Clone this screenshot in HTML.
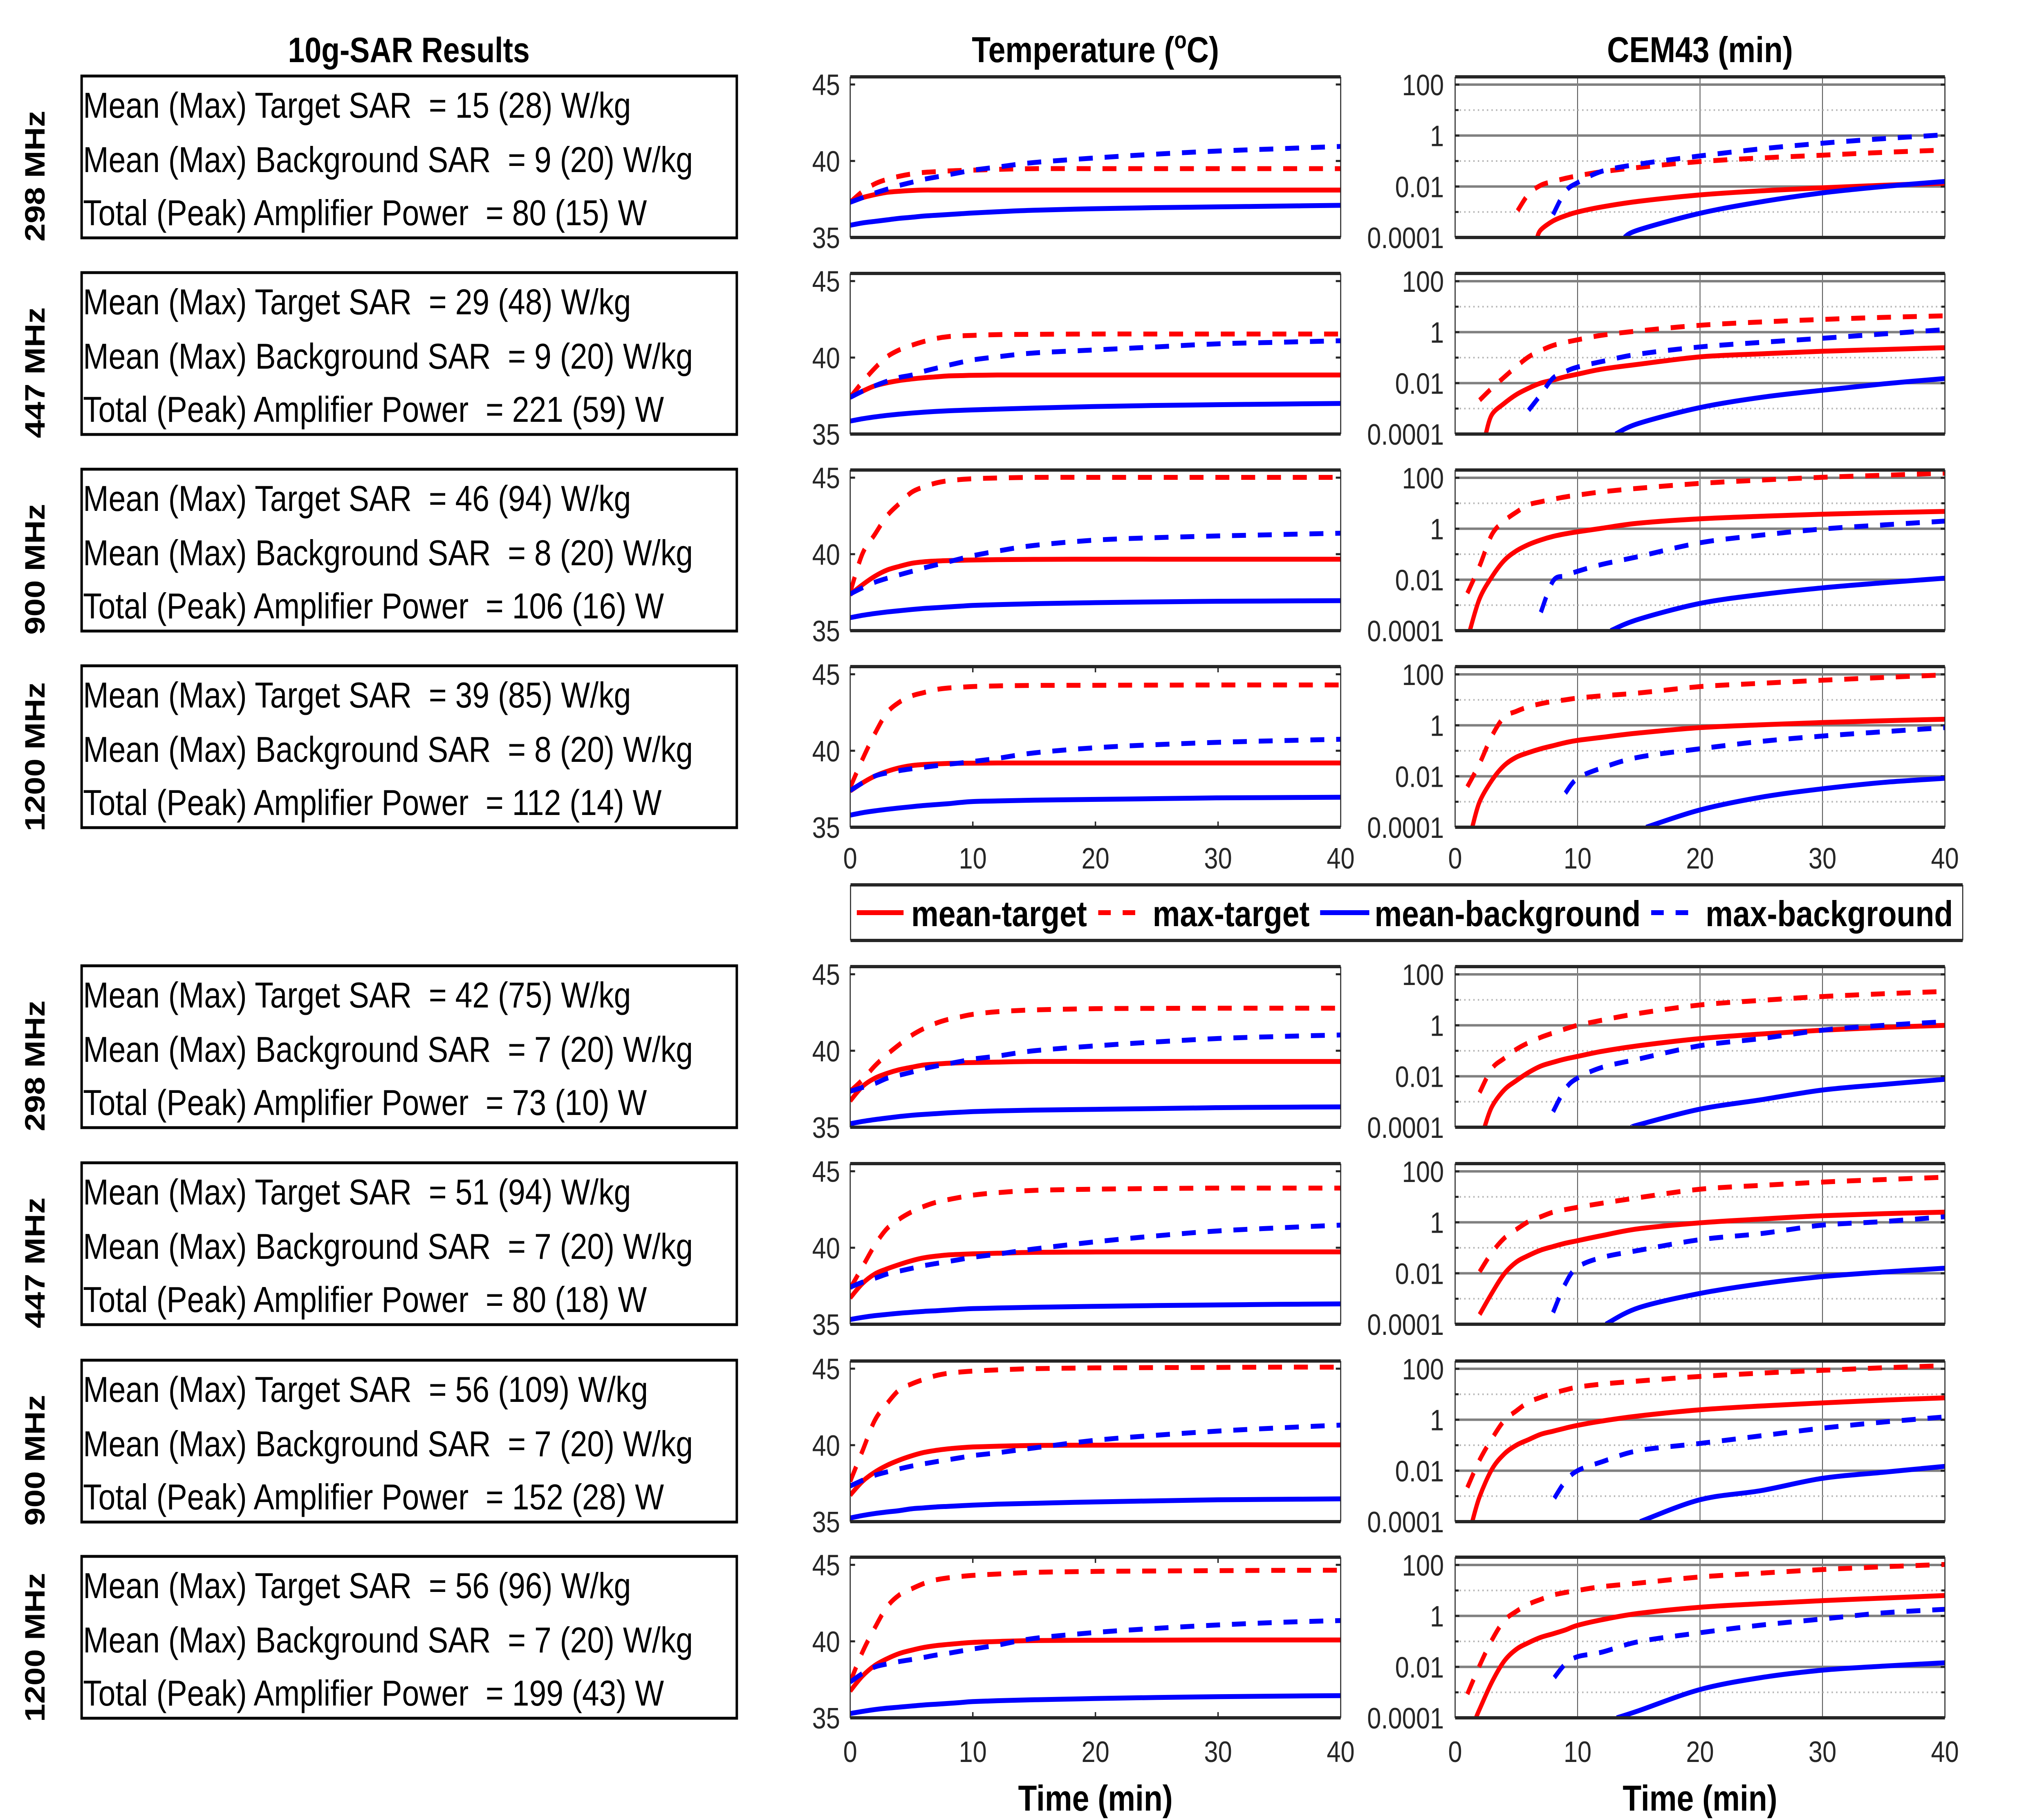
<!DOCTYPE html>
<html>
<head>
<meta charset="utf-8">
<style>
html,body{margin:0;padding:0;background:#fff;width:100%;height:100%;overflow:hidden;}
svg{display:block;width:100vw;height:100vh;}
text{font-family:"Liberation Sans",Arial,sans-serif;}
</style>
</head>
<body>
<svg id="fig" xmlns="http://www.w3.org/2000/svg" viewBox="0 0 5859 4453" preserveAspectRatio="none">
<rect x="0" y="0" width="5859" height="4453" fill="#fff"/>
</svg>
<script>
const TIME = [0,1,2,3,4,5,6,7,8,9,10,12,15,20,25,30,35,40];

const tempMeanTarget = [
[37.3,37.6,37.8,37.95,38.02,38.07,38.1,38.1,38.1,38.1,38.1,38.1,38.1,38.1,38.1,38.1,38.1,38.1],
[37.4,37.8,38.15,38.35,38.5,38.6,38.68,38.74,38.8,38.82,38.84,38.86,38.86,38.86,38.86,38.86,38.86,38.86],
[37.36,38.0,38.55,38.96,39.2,39.4,39.5,39.55,39.58,39.6,39.62,39.64,39.66,39.67,39.67,39.67,39.67,39.67],
[37.37,37.9,38.34,38.65,38.88,39.03,39.1,39.14,39.17,39.18,39.19,39.2,39.2,39.2,39.2,39.2,39.2,39.2],
[36.72,37.66,38.2,38.52,38.76,38.92,39.07,39.13,39.18,39.21,39.23,39.26,39.3,39.3,39.3,39.3,39.3,39.3],
[36.72,37.66,38.28,38.62,38.9,39.15,39.34,39.45,39.53,39.57,39.6,39.64,39.7,39.72,39.73,39.73,39.73,39.73],
[36.73,37.63,38.23,38.68,39.02,39.3,39.52,39.66,39.76,39.83,39.88,39.93,39.98,40.0,40.01,40.02,40.02,40.02],
[36.75,37.73,38.42,38.86,39.2,39.42,39.6,39.72,39.8,39.87,39.93,39.99,40.05,40.07,40.08,40.09,40.09,40.09]
];
const tempMaxTarget = [
[37.3,38.0,38.5,38.8,39.0,39.15,39.25,39.3,39.35,39.38,39.4,39.45,39.5,39.5,39.5,39.5,39.5,39.5],
[37.4,38.4,39.3,40.05,40.5,40.8,41.05,41.25,41.37,41.42,41.45,41.5,41.52,41.54,41.54,41.54,41.54,41.54],
[37.5,40.03,41.28,42.5,43.3,44.04,44.4,44.65,44.8,44.88,44.93,44.98,45.02,45.02,45.02,45.02,45.02,45.02],
[37.6,39.44,41.1,42.48,43.17,43.58,43.8,44.0,44.1,44.15,44.2,44.24,44.27,44.28,44.29,44.3,44.3,44.3],
[37.35,38.1,39.0,39.75,40.4,41.0,41.45,41.8,42.05,42.22,42.38,42.55,42.67,42.75,42.77,42.78,42.78,42.78],
[37.34,38.75,40.16,41.25,41.87,42.34,42.7,42.97,43.15,43.3,43.44,43.6,43.75,43.83,43.87,43.9,43.9,43.9],
[37.63,39.62,41.61,42.71,43.61,44.0,44.3,44.55,44.7,44.78,44.84,44.92,45.0,45.05,45.07,45.08,45.1,45.1],
[37.34,39.3,40.87,42.25,43.03,43.43,43.78,44.02,44.15,44.24,44.31,44.4,44.51,44.57,44.6,44.62,44.64,44.65]
];
const tempMeanBackground = [
[35.8,35.95,36.05,36.15,36.25,36.32,36.4,36.45,36.5,36.55,36.6,36.68,36.78,36.88,36.95,37.0,37.05,37.1],
[35.85,36.0,36.12,36.22,36.3,36.37,36.43,36.48,36.52,36.55,36.58,36.63,36.7,36.8,36.87,36.92,36.96,37.0],
[35.85,36.0,36.12,36.22,36.3,36.38,36.45,36.5,36.55,36.6,36.65,36.7,36.76,36.83,36.88,36.92,36.94,36.96],
[35.79,35.95,36.07,36.17,36.26,36.34,36.42,36.48,36.54,36.62,36.68,36.72,36.77,36.82,36.87,36.92,36.94,36.96],
[35.23,35.38,35.5,35.6,35.7,35.78,35.84,35.89,35.94,35.98,36.02,36.07,36.12,36.17,36.22,36.28,36.31,36.33],
[35.31,35.45,35.56,35.64,35.72,35.78,35.84,35.88,35.93,35.98,36.02,36.06,36.11,36.17,36.22,36.26,36.3,36.33],
[35.24,35.4,35.53,35.63,35.72,35.84,35.9,35.96,36.0,36.04,36.08,36.14,36.2,36.29,36.36,36.43,36.46,36.49],
[35.28,35.42,35.54,35.63,35.7,35.77,35.84,35.89,35.94,36.0,36.06,36.12,36.18,36.26,36.33,36.38,36.42,36.45]
];
const tempMaxBackground = [
[37.3,37.6,37.9,38.15,38.4,38.6,38.8,38.95,39.1,39.25,39.4,39.6,39.9,40.2,40.45,40.65,40.8,40.95],
[37.4,37.8,38.15,38.45,38.7,38.85,39.1,39.3,39.5,39.68,39.85,40.05,40.3,40.5,40.7,40.9,41.0,41.1],
[37.4,37.8,38.16,38.42,38.65,38.87,39.1,39.3,39.5,39.7,39.9,40.2,40.57,40.92,41.08,41.19,41.28,41.37],
[37.4,37.9,38.34,38.55,38.7,38.82,38.92,39.02,39.12,39.2,39.3,39.5,39.86,40.2,40.4,40.55,40.66,40.75],
[37.35,37.6,37.85,38.2,38.4,38.6,38.83,39.0,39.15,39.3,39.46,39.65,40.0,40.32,40.58,40.8,40.93,41.03],
[37.42,37.75,38.0,38.28,38.47,38.65,38.83,38.97,39.1,39.24,39.38,39.58,39.92,40.39,40.78,41.1,41.3,41.48],
[37.33,37.7,38.03,38.25,38.45,38.63,38.78,38.92,39.05,39.18,39.32,39.5,39.82,40.32,40.65,40.92,41.13,41.31],
[37.34,37.9,38.32,38.52,38.68,38.81,38.95,39.1,39.22,39.36,39.5,39.75,40.19,40.58,40.85,41.07,41.24,41.36]
];

// CEM43 (min), stored as log10 values: [time, log10(CEM)]
const cemLog10MeanTarget = [
[[6.7,-4],[7,-3.7],[8,-3.35],[9,-3.15],[10,-3.0],[12,-2.8],[15,-2.58],[20,-2.33],[25,-2.17],[30,-2.05],[35,-1.95],[40,-1.87]],
[[2.5,-4],[3,-3.24],[4,-2.8],[5,-2.45],[6,-2.2],[7,-2.0],[8,-1.88],[9,-1.75],[10,-1.65],[12,-1.45],[15,-1.26],[20,-0.97],[25,-0.85],[30,-0.75],[35,-0.68],[40,-0.61]],
[[1.2,-4],[2,-2.74],[3,-1.89],[4,-1.25],[5,-0.87],[6,-0.62],[7,-0.44],[8,-0.3],[9,-0.2],[10,-0.12],[12,0.02],[15,0.22],[20,0.39],[25,0.49],[30,0.57],[35,0.63],[40,0.68]],
[[1.4,-4],[2,-3.0],[3,-2.16],[4,-1.58],[5,-1.25],[6,-1.07],[7,-0.92],[8,-0.8],[9,-0.68],[10,-0.59],[12,-0.47],[15,-0.3],[20,-0.09],[25,0.02],[30,0.11],[35,0.18],[40,0.24]],
[[2.4,-4],[3,-3.2],[4,-2.54],[5,-2.17],[6,-1.85],[7,-1.6],[8,-1.45],[9,-1.32],[10,-1.22],[12,-1.02],[15,-0.8],[20,-0.52],[25,-0.34],[30,-0.19],[35,-0.08],[40,0.0]],
[[2,-3.62],[3,-2.78],[4,-2.03],[5,-1.56],[6,-1.3],[7,-1.09],[8,-0.95],[9,-0.82],[10,-0.72],[12,-0.52],[15,-0.25],[20,-0.02],[25,0.13],[30,0.26],[35,0.34],[40,0.4]],
[[1.4,-4],[2,-3.02],[3,-1.95],[4,-1.35],[5,-1.0],[6,-0.78],[7,-0.57],[8,-0.45],[9,-0.33],[10,-0.22],[12,-0.05],[15,0.15],[20,0.39],[25,0.54],[30,0.66],[35,0.77],[40,0.86]],
[[1.7,-4],[2,-3.66],[3,-2.6],[4,-1.78],[5,-1.31],[6,-1.05],[7,-0.84],[8,-0.7],[9,-0.55],[10,-0.37],[12,-0.15],[15,0.1],[20,0.34],[25,0.48],[30,0.6],[35,0.7],[40,0.8]]
];
const cemLog10MaxTarget = [
[[5.1,-2.95],[6,-2.3],[7,-1.95],[8,-1.8],[9,-1.68],[10,-1.58],[12,-1.42],[15,-1.25],[20,-1.02],[25,-0.88],[30,-0.77],[35,-0.66],[40,-0.57]],
[[2,-2.67],[3,-2.2],[4,-1.77],[5,-1.35],[6,-0.97],[7,-0.72],[8,-0.52],[9,-0.4],[10,-0.3],[12,-0.12],[15,0.05],[20,0.27],[25,0.4],[30,0.5],[35,0.58],[40,0.64]],
[[1,-2.53],[2,-1.46],[3,-0.23],[4,0.3],[5,0.65],[6,0.94],[7,1.06],[8,1.16],[9,1.25],[10,1.32],[12,1.45],[15,1.59],[20,1.78],[25,1.91],[30,2.02],[35,2.1],[40,2.18]],
[[1,-2.41],[2,-1.5],[3,-0.42],[4,0.32],[5,0.55],[6,0.73],[7,0.85],[8,0.94],[9,1.0],[10,1.07],[12,1.16],[15,1.27],[20,1.52],[25,1.65],[30,1.77],[35,1.88],[40,1.98]],
[[2,-2.64],[3,-1.7],[4,-1.3],[5,-0.94],[6,-0.68],[7,-0.47],[8,-0.3],[9,-0.14],[10,0.0],[12,0.2],[15,0.47],[20,0.8],[25,0.98],[30,1.13],[35,1.24],[40,1.33]],
[[2,-1.94],[3,-1.19],[4,-0.63],[5,-0.28],[6,0.03],[7,0.22],[8,0.4],[9,0.5],[10,0.59],[12,0.75],[15,0.97],[20,1.3],[25,1.45],[30,1.58],[35,1.68],[40,1.77]],
[[1,-2.66],[2,-1.58],[3,-0.75],[4,-0.04],[5,0.35],[6,0.69],[7,0.88],[8,1.04],[9,1.17],[10,1.28],[12,1.4],[15,1.52],[20,1.7],[25,1.83],[30,1.94],[35,2.04],[40,2.12]],
[[1,-3.07],[2,-1.95],[3,-0.95],[4,-0.19],[5,0.18],[6,0.46],[7,0.65],[8,0.82],[9,0.92],[10,1.0],[12,1.15],[15,1.29],[20,1.53],[25,1.68],[30,1.82],[35,1.93],[40,2.02]]
];
const cemLog10MeanBackground = [
[[13.8,-4],[15,-3.7],[20,-3.05],[25,-2.6],[30,-2.25],[35,-2.0],[40,-1.8]],
[[13.1,-4],[15,-3.58],[20,-2.96],[25,-2.56],[30,-2.28],[35,-2.03],[40,-1.82]],
[[12.7,-4],[15,-3.55],[20,-2.93],[25,-2.58],[30,-2.32],[35,-2.12],[40,-1.94]],
[[15.6,-4],[20,-3.32],[25,-2.82],[30,-2.49],[35,-2.24],[40,-2.08]],
[[14.5,-4],[15,-3.9],[20,-3.29],[25,-2.92],[30,-2.54],[35,-2.32],[40,-2.12]],
[[12.3,-4],[15,-3.35],[20,-2.79],[25,-2.41],[30,-2.13],[35,-1.95],[40,-1.8]],
[[15.1,-4],[20,-3.14],[25,-2.78],[30,-2.3],[35,-2.06],[40,-1.83]],
[[13.2,-4],[15,-3.72],[20,-2.89],[25,-2.42],[30,-2.13],[35,-1.97],[40,-1.84]]
];
const cemLog10MaxBackground = [
[[8,-3.1],[9,-2.2],[10,-1.85],[12,-1.4],[15,-1.12],[20,-0.8],[25,-0.52],[30,-0.3],[35,-0.12],[40,0.03]],
[[6,-3.07],[7,-2.45],[8,-1.8],[9,-1.55],[10,-1.37],[12,-1.15],[15,-0.86],[20,-0.58],[25,-0.4],[30,-0.24],[35,-0.07],[40,0.1]],
[[7,-3.28],[8,-2.05],[9,-1.85],[10,-1.67],[12,-1.4],[15,-1.09],[20,-0.55],[25,-0.25],[30,-0.01],[35,0.15],[40,0.3]],
[[9,-2.66],[10,-2.08],[12,-1.67],[15,-1.25],[20,-0.92],[25,-0.63],[30,-0.42],[35,-0.25],[40,-0.09]],
[[8,-3.39],[9,-2.5],[10,-2.07],[12,-1.65],[15,-1.32],[20,-0.8],[25,-0.52],[30,-0.19],[35,0.0],[40,0.14]],
[[8,-3.54],[9,-2.41],[10,-1.76],[12,-1.38],[15,-1.1],[20,-0.68],[25,-0.44],[30,-0.11],[35,0.03],[40,0.22]],
[[8.1,-3.08],[9,-2.42],[10,-2.0],[12,-1.65],[15,-1.21],[20,-0.93],[25,-0.63],[30,-0.33],[35,-0.09],[40,0.11]],
[[8.1,-2.42],[9,-1.89],[10,-1.6],[12,-1.42],[15,-1.01],[20,-0.66],[25,-0.36],[30,-0.12],[35,0.12],[40,0.26]]
];

const freqLabels = ["298 MHz","447 MHz","900 MHz","1200 MHz","298 MHz","447 MHz","900 MHz","1200 MHz"];
const targetSar = ["15 (28)","29 (48)","46 (94)","39 (85)","42 (75)","51 (94)","56 (109)","56 (96)"];
const backgroundSar = ["9 (20)","9 (20)","8 (20)","8 (20)","7 (20)","7 (20)","7 (20)","7 (20)"];
const amplifierPower = ["80 (15)","221 (59)","106 (16)","112 (14)","73 (10)","80 (18)","152 (28)","199 (43)"];
const tempTicks = [35,40,45];
const tempTickLabels = ["35","40","45"];
const cemTicks = [-4,-2,0,2];
const cemTickLabels = ["0.0001","0.01","1","100"];
const cemMinor = [-3,-1,1];
const xTicks = [0,10,20,30,40];
const xTickLabels = ["0","10","20","30","40"];
const seriesNames = ["mean-target","max-target","mean-background","max-background"];

const NS = "http://www.w3.org/2000/svg";
const svg = document.getElementById("fig");
const TOPS = [188,669,1150,1631,2365,2847,3330,3810];
const H = 393;
const TX0 = 2437, TW = 1406, CX0 = 4171, CW = 1404;
const AX = "#262626";
const COLORS = ["#ff0000","#ff0000","#0000ff","#0000ff"];
const DASHED = [false,true,false,true];

function mk(tag, attrs, parent){
  const e = document.createElementNS(NS, tag);
  for (const k in attrs) e.setAttribute(k, attrs[k]);
  (parent || svg).appendChild(e);
  return e;
}
function txt(str, attrs, parent){
  const e = mk("text", attrs, parent);
  e.textContent = str;
  return e;
}
function xT(t, x0, w){ return x0 + t/40*w; }
function yTemp(v, top){ return top + H - (v-35)/10.5*H; }
function yCem(lg, top){ return top + H - (lg+4)/6.305*H; }
function smoothPath(pts){
  if (pts.length < 2) return "";
  let d = "M" + pts[0][0].toFixed(1) + "," + pts[0][1].toFixed(1);
  for (let i=0;i<pts.length-1;i++){
    const p0 = pts[i-1] || pts[i], p1 = pts[i], p2 = pts[i+1], p3 = pts[i+2] || p2;
    const c1x = p1[0] + (p2[0]-p0[0])/6, c1y = p1[1] + (p2[1]-p0[1])/6;
    const c2x = p2[0] - (p3[0]-p1[0])/6, c2y = p2[1] - (p3[1]-p1[1])/6;
    d += " C" + c1x.toFixed(1)+","+c1y.toFixed(1)+" "+c2x.toFixed(1)+","+c2y.toFixed(1)+" "+p2[0].toFixed(1)+","+p2[1].toFixed(1);
  }
  return d;
}
function seriesStyle(i){
  const s = {fill:"none", stroke:COLORS[i], "stroke-width":12, "stroke-linejoin":"round"};
  if (DASHED[i]) s["stroke-dasharray"] = "40 34";
  return s;
}

const defs = mk("defs", {});

let e;
e = txt("10g-SAR Results", {x:1172, y:152, "text-anchor":"middle", "font-size":86, "font-weight":"bold"});


e = txt("", {x:3140, y:152, "text-anchor":"middle", "font-size":88, "font-weight":"bold"});


e.appendChild(document.createTextNode("Temperature ("));
const sup = mk("tspan", {"font-size":58, dy:-34}, e); sup.textContent = "o";
const afterSup = mk("tspan", {dy:34}, e); afterSup.textContent = "C)";
e = txt("CEM43 (min)", {x:4873, y:152, "text-anchor":"middle", "font-size":88, "font-weight":"bold"});



const tempSeries = [tempMeanTarget, tempMaxTarget, tempMeanBackground, tempMaxBackground];
const cemSeries = [cemLog10MeanTarget, cemLog10MaxTarget, cemLog10MeanBackground, cemLog10MaxBackground];

for (let p=0;p<8;p++){
  const top = TOPS[p], bot = top + H;
  const isBottom = (p === 3 || p === 7);

  const g = mk("g", {});
  
  
  mk("rect", {x:234, y:top-2, width:1878, height:H+3, fill:"none", stroke:"#000", "stroke-width":7}, g);
  const lines = [
    "Mean (Max) Target SAR  = " + targetSar[p] + " W/kg",
    "Mean (Max) Background SAR  = " + backgroundSar[p] + " W/kg",
    "Total (Peak) Amplifier Power  = " + amplifierPower[p] + " W"
  ];
  const offs = [100, 233, 363];
  for (let k=0;k<3;k++){
    const t = txt(lines[k], {x:238, y:top+offs[k], "font-size":88, "xml:space":"preserve"}, g);
    t.setAttribute('style', 'white-space:pre');
    
    
  }
  const fl = txt(freqLabels[p], {x:0, y:0, "font-size":80, "font-weight":"bold", transform:"translate(128," + (bot+10) + ") rotate(-90)"});
  
  

  const ta = mk("g", {});
  
  
  const cpT = mk("clipPath", {id:"cpT"+p}, defs);
  mk("rect", {x:TX0, y:top, width:TW, height:H}, cpT);
  mk("rect", {x:TX0, y:top, width:TW, height:H, fill:"#fff"}, ta);
  for (let k=0;k<tempTicks.length;k++){
    const y = yTemp(tempTicks[k], top);
    mk("line", {x1:TX0, x2:TX0+14, y1:y, y2:y, stroke:AX, "stroke-width":5}, ta);
    mk("line", {x1:TX0+TW-14, x2:TX0+TW, y1:y, y2:y, stroke:AX, "stroke-width":5}, ta);
    const lb = txt(tempTickLabels[k], {x:TX0-29, y:y+26, "text-anchor":"end", "font-size":72, fill:"#262626"}, ta);
    
    
  }
  if (isBottom){
    for (let k=1;k<xTicks.length-1;k++){
      const x = xT(xTicks[k], TX0, TW);
      mk("line", {x1:x, x2:x, y1:top, y2:top+14, stroke:AX, "stroke-width":4}, ta);
      mk("line", {x1:x, x2:x, y1:bot-14, y2:bot, stroke:AX, "stroke-width":4}, ta);
    }
  }
  const tl = mk("g", {"clip-path":"url(#cpT"+p+")"}, ta);
  for (let s=0;s<4;s++){
    const pts = TIME.map((t,i)=>[xT(t,TX0,TW), yTemp(tempSeries[s][p][i], top)]);
    const path = mk("path", Object.assign({d:smoothPath(pts)}, seriesStyle(s)), tl);
    
    
  }
  mk("line", {x1:TX0, x2:TX0+TW, y1:top, y2:top, stroke:AX, "stroke-width":8}, ta);
  mk("line", {x1:TX0, x2:TX0+TW, y1:bot, y2:bot, stroke:AX, "stroke-width":8}, ta);
  mk("line", {x1:TX0, x2:TX0, y1:top, y2:bot, stroke:AX, "stroke-width":3}, ta);
  mk("line", {x1:TX0+TW, x2:TX0+TW, y1:top, y2:bot, stroke:AX, "stroke-width":3}, ta);

  const ca = mk("g", {});
  
  
  const cpC = mk("clipPath", {id:"cpC"+p}, defs);
  mk("rect", {x:CX0, y:top, width:CW, height:H}, cpC);
  mk("rect", {x:CX0, y:top, width:CW, height:H, fill:"#fff"}, ca);
  for (let k=1;k<xTicks.length-1;k++){
    const x = xT(xTicks[k], CX0, CW);
    mk("line", {x1:x, x2:x, y1:top, y2:bot, stroke:"#555", "stroke-width":2.5}, ca);
  }
  for (let k=0;k<cemMinor.length;k++){
    const y = yCem(cemMinor[k], top);
    mk("line", {x1:CX0, x2:CX0+CW, y1:y, y2:y, stroke:"#b5b5b5", "stroke-width":4, "stroke-dasharray":"4 9"}, ca);
    mk("line", {x1:CX0, x2:CX0+10, y1:y, y2:y, stroke:AX, "stroke-width":5}, ca);
    mk("line", {x1:CX0+CW-10, x2:CX0+CW, y1:y, y2:y, stroke:AX, "stroke-width":5}, ca);
  }
  for (let k=0;k<cemTicks.length;k++){
    const y = yCem(cemTicks[k], top);
    if (cemTicks[k] > -4) mk("line", {x1:CX0, x2:CX0+CW, y1:y, y2:y, stroke:"#808080", "stroke-width":6}, ca);
    mk("line", {x1:CX0, x2:CX0+12, y1:y, y2:y, stroke:AX, "stroke-width":5}, ca);
    mk("line", {x1:CX0+CW-12, x2:CX0+CW, y1:y, y2:y, stroke:AX, "stroke-width":5}, ca);
    const lb = txt(cemTickLabels[k], {x:CX0-32, y:y+26, "text-anchor":"end", "font-size":72, fill:"#262626"}, ca);
    
    
  }
  const cl = mk("g", {"clip-path":"url(#cpC"+p+")"}, ca);
  for (let s=0;s<4;s++){
    const pts = cemSeries[s][p].map(q=>[xT(q[0],CX0,CW), yCem(q[1], top)]);
    const path = mk("path", Object.assign({d:smoothPath(pts)}, seriesStyle(s)), cl);
    
    
  }
  mk("line", {x1:CX0, x2:CX0+CW, y1:top, y2:top, stroke:AX, "stroke-width":8}, ca);
  mk("line", {x1:CX0, x2:CX0+CW, y1:bot, y2:bot, stroke:AX, "stroke-width":8}, ca);
  mk("line", {x1:CX0, x2:CX0, y1:top, y2:bot, stroke:AX, "stroke-width":3}, ca);
  mk("line", {x1:CX0+CW, x2:CX0+CW, y1:top, y2:bot, stroke:AX, "stroke-width":3}, ca);

  if (isBottom){
    const by = (p === 3) ? 2125 : 4311;
    for (let k=0;k<xTicks.length;k++){
      const l1 = txt(xTickLabels[k], {x:xT(xTicks[k],TX0,TW), y:by, "text-anchor":"middle", "font-size":72, fill:"#262626"});
      
      
      const l2 = txt(xTickLabels[k], {x:xT(xTicks[k],CX0,CW), y:by, "text-anchor":"middle", "font-size":72, fill:"#262626"});
      
      
    }
  }
}

e = txt("Time (min)", {x:3140, y:4430, "text-anchor":"middle", "font-size":88, "font-weight":"bold"});


e = txt("Time (min)", {x:4873, y:4430, "text-anchor":"middle", "font-size":88, "font-weight":"bold"});



const lg = mk("g", {});


mk("rect", {x:2438, y:2165, width:3188, height:136, fill:"#fff"}, lg);
mk("line", {x1:2438, x2:5626, y1:2165, y2:2165, stroke:AX, "stroke-width":8}, lg);
mk("line", {x1:2438, x2:5626, y1:2301, y2:2301, stroke:AX, "stroke-width":8}, lg);
mk("line", {x1:2438, x2:2438, y1:2165, y2:2301, stroke:AX, "stroke-width":3}, lg);
mk("line", {x1:5626, x2:5626, y1:2165, y2:2301, stroke:AX, "stroke-width":3}, lg);
const legSample = [[2456,2590],[3148,3262],[3784,3925],[4733,4858]];
const legText = [2612,3304,3940,4889];
for (let s=0;s<4;s++){
  const st = seriesStyle(s);
  if (DASHED[s]) st["stroke-dasharray"] = "36 34";
  const ln = mk("line", Object.assign({x1:legSample[s][0], x2:legSample[s][1], y1:2233, y2:2233}, st), lg);
  
  
  const lt = txt(seriesNames[s], {x:legText[s], y:2266, "font-size":88, "font-weight":"bold"}, lg);
  
  
}
</script>
</body>
</html>
